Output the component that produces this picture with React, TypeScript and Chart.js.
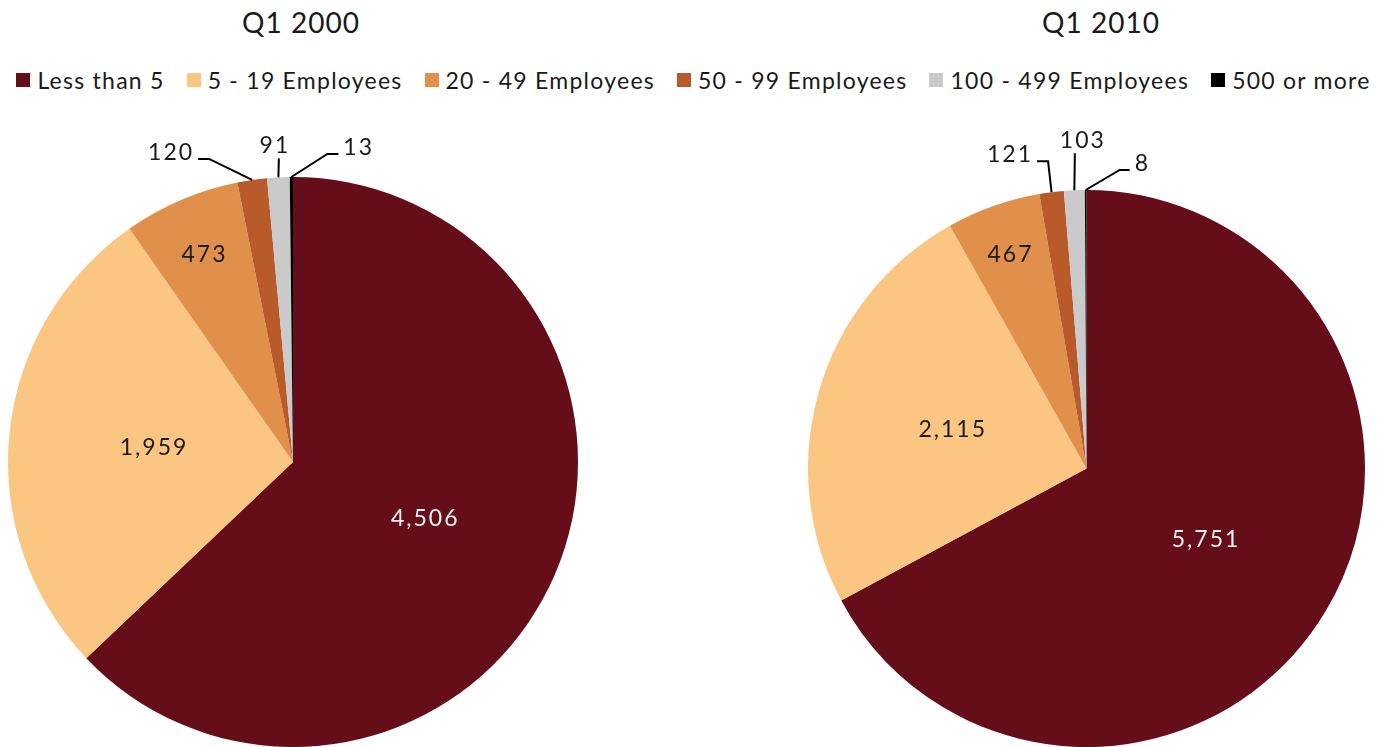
import React, { useEffect, useRef } from "react";
import { Chart, registerables } from "chart.js";

Chart.register(...registerables);

const categories = [
  "Less than 5",
  "5 - 19 Employees",
  "20 - 49 Employees",
  "50 - 99 Employees",
  "100 - 499 Employees",
  "500 or more",
];
const values2000 = [4506, 1959, 473, 120, 91, 13];
const values2010 = [5751, 2115, 467, 121, 103, 8];
const titles = ["Q1 2000", "Q1 2010"];
const colors = ["#650D18", "#FBC682", "#E0904B", "#B95A2A", "#CACACA", "#000000"];

const FONT = "Lato, 'DejaVu Sans', sans-serif";
const TEXT = "#1A1A1A";
const LABEL_SIZE = 23;

type Spec =
  | { kind: "in"; r: number; color: string }
  | { kind: "out"; dx: number; dy: number; arm: number; tx?: number };

const layout2000: Spec[] = [
  { kind: "in", r: 0.505, color: "#F2F2F2" },
  { kind: "in", r: 0.49, color: TEXT },
  { kind: "in", r: 0.79, color: TEXT },
  { kind: "out", dx: -43, dy: -21, arm: -11 },
  { kind: "out", dx: 0.5, dy: -19, arm: 0, tx: -4 },
  { kind: "out", dx: 36, dy: -23, arm: 11 },
];
const layout2010: Spec[] = [
  { kind: "in", r: 0.5, color: "#F2F2F2" },
  { kind: "in", r: 0.5, color: TEXT },
  { kind: "in", r: 0.815, color: TEXT },
  { kind: "out", dx: -3.5, dy: -31, arm: -11 },
  { kind: "out", dx: 0.5, dy: -37, arm: 0, tx: 8 },
  { kind: "out", dx: 34, dy: -20, arm: 10 },
];

function PieChart(props: {
  values: number[];
  layout: Spec[];
  box: { left: number; top: number; width: number; height: number };
  padding: { left: number; right: number; top: number; bottom: number };
}) {
  const ref = useRef<HTMLCanvasElement>(null);
  useEffect(() => {
    const { values, layout, padding } = props;
    const labelPlugin = {
      id: "sliceLabels",
      afterDatasetsDraw(chart: any) {
        const ctx = chart.ctx as CanvasRenderingContext2D;
        const meta = chart.getDatasetMeta(0);
        ctx.save();
        ctx.font = `400 ${LABEL_SIZE}px ${FONT}`;
        (ctx as any).letterSpacing = "2px";
        meta.data.forEach((arc: any, i: number) => {
          const p = arc.getProps(["x", "y", "startAngle", "endAngle", "outerRadius"], true);
          const mid = (p.startAngle + p.endAngle) / 2;
          const text = values[i].toLocaleString("en-US");
          const spec = layout[i];
          if (spec.kind === "in") {
            const r = p.outerRadius * spec.r;
            ctx.fillStyle = spec.color;
            ctx.textAlign = "center";
            ctx.textBaseline = "middle";
            ctx.fillText(text, p.x + Math.cos(mid) * r, p.y + Math.sin(mid) * r);
          } else {
            const ex = p.x + Math.cos(mid) * p.outerRadius;
            const ey = p.y + Math.sin(mid) * p.outerRadius;
            const px = ex + spec.dx;
            const py = ey + spec.dy;
            const qx = px + spec.arm;
            ctx.strokeStyle = "#000";
            ctx.lineWidth = 2;
            ctx.beginPath();
            ctx.moveTo(ex, ey);
            ctx.lineTo(px, py);
            if (spec.arm !== 0) ctx.lineTo(qx, py);
            ctx.stroke();
            ctx.fillStyle = TEXT;
            ctx.textBaseline = "alphabetic";
            if (spec.arm < 0) {
              ctx.textAlign = "right";
              ctx.fillText(text, qx - 4, py + 1);
            } else if (spec.arm > 0) {
              ctx.textAlign = "left";
              ctx.fillText(text, qx + 5, py + 1);
            } else {
              ctx.textAlign = "center";
              ctx.fillText(text, px + (spec.tx || 0), py - 5);
            }
          }
        });
        ctx.restore();
      },
    };
    const chart = new Chart(ref.current as HTMLCanvasElement, {
      type: "pie",
      data: {
        labels: categories,
        datasets: [
          {
            data: values,
            backgroundColor: colors,
            borderWidth: 0,
            hoverOffset: 0,
            offset: 0,
          },
        ],
      },
      options: {
        animation: false,
        responsive: false,
        maintainAspectRatio: false,
        layout: { padding },
        plugins: {
          legend: { display: false },
          tooltip: { enabled: false },
          title: { display: false },
        },
      },
      plugins: [labelPlugin],
    });
    return () => chart.destroy();
  }, []);
  const { box } = props;
  return (
    <canvas
      ref={ref}
      width={box.width}
      height={box.height}
      style={{ position: "absolute", left: box.left, top: box.top, width: box.width, height: box.height }}
    />
  );
}

export default function App() {
  const titleStyle: React.CSSProperties = {
    position: "absolute",
    top: 4,
    width: 300,
    textAlign: "center",
    fontSize: 28,
    lineHeight: "36px",
    letterSpacing: "1px",
    fontWeight: 400,
  };
  return (
    <div
      style={{
        position: "fixed",
        left: 0,
        top: 0,
        width: 1387,
        height: 747,
        background: "#fff",
        overflow: "hidden",
        fontFamily: FONT,
        color: TEXT,
      }}
    >
      <div style={{ ...titleStyle, left: 151 }}>{titles[0]}</div>
      <div style={{ ...titleStyle, left: 951 }}>{titles[1]}</div>
      <div
        style={{
          position: "absolute",
          left: 0,
          top: 66,
          width: 1387,
          display: "flex",
          justifyContent: "center",
          fontSize: 23,
          lineHeight: "28px",
          whiteSpace: "nowrap",
          letterSpacing: "1.25px",
          fontWeight: 400,
        }}
      >
        {categories.map((c, i) => (
          <div key={c} style={{ display: "flex", alignItems: "center", marginLeft: i === 0 ? 0 : 22 }}>
            <span style={{ display: "inline-block", width: 14, height: 14, background: colors[i], marginRight: 7 }} />
            <span>{c}</span>
          </div>
        ))}
      </div>
      <PieChart
        values={values2000}
        layout={layout2000}
        box={{ left: 0, top: 110, width: 586, height: 637 }}
        padding={{ left: 8, right: 8, top: 67, bottom: 0 }}
      />
      <PieChart
        values={values2010}
        layout={layout2010}
        box={{ left: 800, top: 110, width: 587, height: 637 }}
        padding={{ left: 8, right: 22, top: 80, bottom: 0 }}
      />
    </div>
  );
}
